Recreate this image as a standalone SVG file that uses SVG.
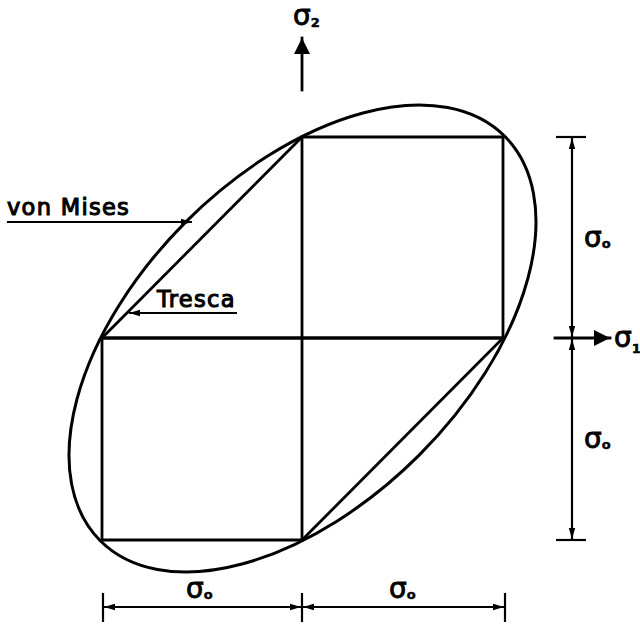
<svg xmlns="http://www.w3.org/2000/svg" width="640" height="624" viewBox="0 0 640 624">
<style>
.ln{stroke:#000;stroke-width:2.8;fill:none;stroke-linecap:square}
.dim{stroke:#000;stroke-width:2.2;fill:none}
.t{font-family:"DejaVu Sans","Liberation Sans",sans-serif;fill:#000;stroke:#000}
.lab{font-size:22.5px;letter-spacing:1.3px;stroke-width:1.1px}
.sg{font-size:28px;stroke-width:0.9px}
.sub{font-size:13px;font-weight:bold;stroke-width:0.5px}
</style>
<defs>
<marker id="ah" markerUnits="userSpaceOnUse" markerWidth="12" markerHeight="8" refX="11" refY="4" orient="auto-start-reverse">
<path d="M0,0.8 L11,4 L0,7.2 Z" fill="#000"/>
</marker>
<marker id="big" markerUnits="userSpaceOnUse" markerWidth="17" markerHeight="16" refX="16" refY="8" orient="auto">
<path d="M0,0 L16,8 L0,16 Z" fill="#000"/>
</marker>
</defs>
<rect width="640" height="624" fill="#fff"/>
<g id="ellipse">
<ellipse cx="302.5" cy="338.5" rx="286" ry="165" transform="rotate(-45 302.5 338.5)" fill="none" stroke="#000" stroke-width="3"/>
</g>
<g id="tresca">
<path class="ln" d="M102,338 L102,540 L302,540 L302,137 L503,137 L503,338 Z"/>
<path class="ln" d="M302,137 L102,338"/>
<path class="ln" d="M503,338 L302,540"/>
<path class="ln" d="M102,338 L503,338"/>
</g>
<g id="connectors">
<line class="ln" x1="302" y1="90" x2="302" y2="38" marker-end="url(#big)"/>
<line class="ln" x1="555" y1="338" x2="610" y2="338" marker-end="url(#big)"/>
<line class="dim" x1="572" y1="138" x2="572" y2="337" marker-start="url(#ah)" marker-end="url(#ah)"/>
<line class="dim" x1="572" y1="339" x2="572" y2="539" marker-start="url(#ah)" marker-end="url(#ah)"/>
<line class="dim" x1="556" y1="137" x2="586" y2="137"/>
<line class="dim" x1="556" y1="540" x2="586" y2="540"/>
<line class="dim" x1="104" y1="607" x2="301" y2="607" marker-start="url(#ah)" marker-end="url(#ah)"/>
<line class="dim" x1="303" y1="607" x2="504" y2="607" marker-start="url(#ah)" marker-end="url(#ah)"/>
<line class="dim" x1="103" y1="593" x2="103" y2="622"/>
<line class="dim" x1="302" y1="593" x2="302" y2="622"/>
<line class="dim" x1="505" y1="593" x2="505" y2="622"/>
<line class="dim" x1="7" y1="222" x2="192" y2="222" marker-end="url(#ah)"/>
<line class="dim" x1="237" y1="313" x2="129" y2="313" marker-end="url(#ah)"/>
</g>
<g id="labels">
<text class="t sg" x="293" y="25">σ<tspan class="sub" dy="2">2</tspan></text>
<text class="t sg" x="614" y="347">σ<tspan class="sub" dy="6">1</tspan></text>
<text class="t sg" x="584" y="247">σ<tspan class="sub" dy="1">o</tspan></text>
<text class="t sg" x="584" y="448">σ<tspan class="sub" dy="1">o</tspan></text>
<text class="t sg" x="186" y="598">σ<tspan class="sub" dy="1">o</tspan></text>
<text class="t sg" x="389" y="598">σ<tspan class="sub" dy="1">o</tspan></text>
<text class="t lab" x="7" y="215">von Mises</text>
<text class="t lab" x="157" y="307">Tresca</text>
</g>
</svg>
